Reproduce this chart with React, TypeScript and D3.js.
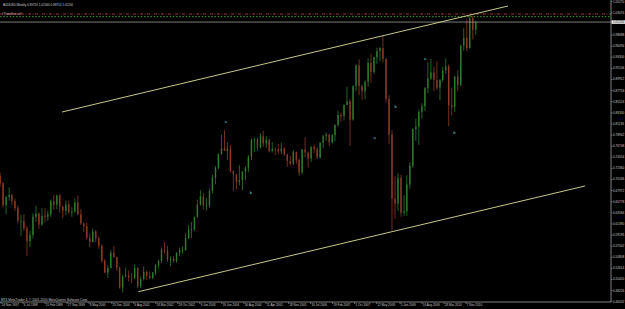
import React from 'react';
import * as d3 from 'd3';

const W = 625;
const H = 309;

const symbolTitle = 'AUDUSD,Weekly  0.99720 1.01560 0.98710 1.01250';
const objectLabel = '#Trendline sell';
const copyright = 'MT4 MetaTrader 4, © 2001-2010 MetaQuotes Software Corp.';

// monthly OHLC, starting Nov 1997
const startMonth = '1997-11-15';
const opens = [
  .708, .694, .651, .667, .671, .659, .645, .620, .620, .605, .580, .592, .628, .634,
  .613, .630, .628, .633, .659, .652, .670, .648, .640, .652, .638, .638,
  .656, .633, .615, .609, .587, .578, .599, .585, .571, .541, .518, .527,
  .557, .548, .527, .488, .510, .512, .508, .507, .527, .491, .505, .519,
  .511, .507, .518, .532, .541, .563, .562, .543, .545, .541, .557, .562,
  .562, .586, .602, .603, .628, .652, .668, .650, .650, .679, .705, .725,
  .752, .763, .758, .762, .718, .712, .697, .700, .717, .725, .746, .780,
  .781, .765, .787, .773, .780, .758, .762, .761, .757, .763, .751, .738,
  .733, .756, .740, .716, .761, .755, .743, .766, .762, .745, .774, .787,
  .790, .775, .789, .809, .829, .827, .849, .856, .820, .886, .927, .886,
  .876, .895, .932, .914, .943, .955, .961, .940, .861, .790, .664, .654,
  .705, .636, .639, .692, .729, .801, .806, .835, .846, .882, .901, .913,
  .898, .883, .898, .917, .925, .848, .845, .905, .888, .966, .981, .961,
  1.020, .997,
];
const highs = [
  .715, .697, .669, .686, .673, .664, .650, .632, .633, .610, .600, .635, .650, .637,
  .645, .645, .640, .662, .671, .672, .673, .650, .660, .660, .647, .664,
  .670, .643, .616, .616, .595, .605, .602, .590, .573, .545, .532, .562,
  .570, .549, .530, .513, .528, .522, .517, .534, .528, .510, .530, .522,
  .520, .519, .535, .543, .567, .578, .570, .550, .551, .558, .567, .570,
  .595, .612, .618, .628, .662, .680, .675, .665, .684, .711, .728, .753,
  .790, .799, .775, .770, .720, .712, .730, .718, .727, .750, .783, .784,
  .785, .793, .798, .787, .782, .775, .765, .772, .774, .765, .753, .748,
  .760, .757, .743, .762, .785, .757, .767, .771, .766, .776, .790, .795,
  .792, .792, .811, .837, .834, .850, .885, .860, .888, .929, .939, .889,
  .897, .941, .950, .944, .962, .963, .985, .941, .868, .799, .708, .714,
  .711, .671, .710, .736, .803, .822, .840, .852, .884, .933, .940, .925,
  .935, .900, .924, .941, .929, .883, .906, .917, .968, 1.001, 1.018, 1.024,
  1.025, 1.015,
];
const lows = [
  .687, .646, .633, .660, .650, .640, .615, .590, .600, .550, .568, .585, .618, .604,
  .610, .617, .620, .628, .642, .643, .636, .625, .632, .634, .628, .636,
  .631, .612, .598, .583, .568, .577, .578, .565, .537, .517, .507, .526,
  .548, .521, .486, .478, .508, .500, .497, .505, .487, .487, .502, .503,
  .505, .505, .513, .526, .537, .555, .539, .530, .537, .537, .550, .555,
  .561, .584, .586, .600, .625, .650, .642, .640, .646, .674, .692, .722,
  .750, .759, .740, .716, .678, .682, .690, .680, .700, .716, .740, .756,
  .758, .763, .766, .764, .755, .755, .750, .752, .752, .748, .727, .729,
  .730, .733, .709, .712, .745, .725, .736, .754, .742, .743, .763, .778,
  .768, .773, .777, .806, .815, .818, .848, .768, .818, .876, .868, .859,
  .860, .885, .893, .910, .930, .935, .933, .854, .771, .601, .624, .640,
  .628, .630, .630, .683, .724, .778, .770, .822, .837, .872, .898, .876,
  .878, .858, .894, .910, .807, .828, .835, .876, .886, .956, .955, .960,
  .978, .987,
];
const closes = [
  .694, .651, .667, .671, .659, .645, .620, .620, .605, .580, .592, .628, .634, .613,
  .630, .628, .633, .659, .652, .670, .648, .640, .652, .638, .638, .656,
  .633, .615, .609, .587, .578, .599, .585, .571, .541, .518, .527, .557,
  .548, .527, .488, .510, .512, .508, .507, .527, .491, .505, .519, .511,
  .507, .518, .532, .541, .563, .562, .543, .545, .541, .557, .562, .562,
  .586, .602, .603, .628, .652, .668, .650, .650, .679, .705, .725, .752,
  .763, .758, .762, .718, .712, .697, .700, .717, .725, .746, .780, .781,
  .765, .787, .773, .780, .758, .762, .761, .757, .763, .751, .738, .733,
  .756, .740, .716, .761, .755, .743, .766, .762, .745, .774, .787, .790,
  .775, .789, .809, .829, .827, .849, .856, .820, .886, .927, .886, .876,
  .895, .932, .914, .943, .955, .961, .940, .861, .790, .664, .654, .705,
  .636, .639, .692, .729, .801, .806, .835, .846, .882, .901, .913, .898,
  .883, .898, .917, .925, .848, .845, .905, .888, .966, .981, .961, 1.020,
  .997, 1.0125,
];

const timeTickDates = [
  '1997-11-24', '1998-07-06', '1999-02-15', '1999-09-27', '2000-05-08', '2000-12-25',
  '2001-08-06', '2002-03-18', '2002-10-28', '2003-06-09', '2004-01-19', '2004-08-30',
  '2005-04-11', '2005-11-28', '2006-07-10', '2007-02-19', '2007-10-01', '2008-05-12',
  '2009-01-05', '2009-08-16', '2010-03-28', '2010-11-07',
];
const timeTickLabels = [
  '24 Nov 1997', '6 Jul 1998', '15 Feb 1999', '27 Sep 1999', '8 May 2000', '25 Dec 2000',
  '6 Aug 2001', '18 Mar 2002', '28 Oct 2002', '9 Jun 2003', '19 Jan 2004', '30 Aug 2004',
  '11 Apr 2005', '28 Nov 2005', '10 Jul 2006', '19 Feb 2007', '1 Oct 2007', '12 May 2008',
  '5 Jan 2009', '16 Aug 2009', '28 Mar 2010', '7 Nov 2010',
];
const priceTicks = [
  1.05270, 1.03076, 1.00882, 0.98688, 0.96494, 0.94300, 0.92106, 0.89912, 0.87718,
  0.85524, 0.83330, 0.81136, 0.78942, 0.76748, 0.74554, 0.72360, 0.70166, 0.67972,
  0.65778, 0.63584, 0.61390, 0.59196, 0.57002, 0.54808, 0.52614, 0.50420, 0.48226,
  0.46032,
];

const bidPrice = 1.0125;
const redLevel = 1.0284;
const greenLevel = 1.0231;

const upperChannelDates = ['1999-08-07', '2012-01-08'];
const upperChannelPrices = [0.8349, 1.0442];
const lowerChannelDates = ['2001-09-21', '2014-03-02'];
const lowerChannelPrices = [0.48, 0.6888];

const waveTexts = ['a', 'b', 'a', 'b', 'a', 'b'];
const waveDates = ['2004-03-01', '2004-11-10', '2008-04-22', '2008-11-22', '2009-09-16', '2010-07-11'];
const wavePrices = [0.8171, 0.6769, 0.784, 0.8448, 0.9415, 0.7947];

const parse = d3.timeParse('%Y-%m-%d');

export default function App() {
  const plotRight = 611;
  const plotBottom = 302;
  const x = d3
    .scaleTime()
    .domain([parse('1997-11-24')!, parse('2010-11-07')!])
    .range([1, 466]);
  const y = d3.scaleLinear().domain([priceTicks[priceTicks.length - 1], priceTicks[0]]).range([301.7, 1.7]);

  const start = parse(startMonth)!;
  const months = closes.map((_, i) => d3.timeMonth.offset(start, i));
  const pxPerDay = x(parse('2000-01-02')!) - x(parse('2000-01-01')!);
  const bodyW = Math.max(1.0, pxPerDay * 30.4 * 0.5);

  const upColor = '#3a923a';
  const downColor = '#a8472e';
  const fontFam = "'Liberation Sans', Arial, sans-serif";
  const bidY = y(bidPrice);

  return (
    <svg
      width={W}
      height={H}
      style={{ position: 'absolute', left: 0, top: 0, background: '#000' }}
    >
      <rect x={0} y={0} width={W} height={H} fill="#000" />
      <defs>
        <clipPath id="plot">
          <rect x={0} y={0} width={plotRight} height={plotBottom} />
        </clipPath>
      </defs>

      <g clipPath="url(#plot)">
        {/* candles */}
        {months.map((m, i) => {
          const cx = x(m);
          const o = opens[i];
          const c = closes[i];
          const col = c >= o ? upColor : downColor;
          const top = y(Math.max(o, c));
          const bot = y(Math.min(o, c));
          return (
            <g key={i} opacity={0.9}>
              <line x1={cx} x2={cx} y1={y(highs[i])} y2={y(lows[i])} stroke={col} strokeWidth={0.75} />
              <rect x={cx - bodyW / 2} y={top} width={bodyW} height={Math.max(0.8, bot - top)} fill={col} opacity={0.8} />
            </g>
          );
        })}

        {/* level lines */}
        <line x1={0} x2={plotRight} y1={y(redLevel)} y2={y(redLevel)} stroke="#a83a3a" strokeWidth={0.9} strokeDasharray="3,1.5,1,1.5" />
        <line x1={0} x2={plotRight} y1={y(greenLevel)} y2={y(greenLevel)} stroke="#3a9a3a" strokeWidth={1} strokeDasharray="1.6,1.6" />
        <line x1={0} x2={plotRight} y1={bidY} y2={bidY} stroke="#9a9a9a" strokeWidth={0.8} />

        {/* channel */}
        <line
          x1={x(parse(upperChannelDates[0])!)}
          y1={y(upperChannelPrices[0])}
          x2={x(parse(upperChannelDates[1])!)}
          y2={y(upperChannelPrices[1])}
          stroke="#dede9c"
          strokeWidth={0.9}
        />
        <line
          x1={x(parse(lowerChannelDates[0])!)}
          y1={y(lowerChannelPrices[0])}
          x2={x(parse(lowerChannelDates[1])!)}
          y2={y(lowerChannelPrices[1])}
          stroke="#dede9c"
          strokeWidth={0.9}
        />

        {/* wave labels */}
        {waveTexts.map((t, i) => (
          <text
            key={i}
            x={x(parse(waveDates[i])!)}
            y={y(wavePrices[i])}
            fontSize={4}
            fill="#7fd4d4"
            textAnchor="middle"
            dominantBaseline="central"
            fontFamily={fontFam}
          >
            {t}
          </text>
        ))}

        <text x={3} y={5.5} fontSize={3} fill="#d0d0d0" fontFamily={fontFam}>
          {symbolTitle}
        </text>
        <text x={2} y={y(redLevel) + 1} fontSize={3} fill="#d8b8b8" fontFamily={fontFam}>
          {objectLabel}
        </text>
        <text x={1} y={plotBottom - 0.6} fontSize={3.2} fill="#c8c8c8" fontFamily={fontFam}>
          {copyright}
        </text>
      </g>

      {/* axes frame */}
      <line x1={plotRight} x2={plotRight} y1={0} y2={plotBottom} stroke="#a0a0a0" strokeWidth={0.8} />
      <line x1={0} x2={plotRight} y1={plotBottom} y2={plotBottom} stroke="#a0a0a0" strokeWidth={0.8} />

      {/* price axis */}
      {priceTicks.map((p, i) => {
        const ty = y(p);
        if (Math.abs(ty - bidY) < 4) return null;
        return (
          <g key={i}>
            <line x1={plotRight} x2={plotRight + 1.5} y1={ty} y2={ty} stroke="#a0a0a0" strokeWidth={0.6} />
            <text x={plotRight + 2} y={ty + 1} fontSize={3.1} fill="#c8c8c8" fontFamily={fontFam}>
              {p.toFixed(5)}
            </text>
          </g>
        );
      })}
      <rect x={plotRight + 0.5} y={bidY - 1.8} width={13.5} height={3.6} fill="#e8e8e8" />
      <text x={plotRight + 2} y={bidY + 1} fontSize={3.1} fill="#000" fontFamily={fontFam}>
        {bidPrice.toFixed(5)}
      </text>

      {/* time axis */}
      {timeTickDates.map((d, i) => {
        const tx = x(parse(d)!);
        return (
          <g key={i}>
            <line x1={tx} x2={tx} y1={plotBottom} y2={plotBottom + 2} stroke="#a0a0a0" strokeWidth={0.6} />
            <text x={tx + 0.8} y={plotBottom + 3.8} fontSize={3} fill="#c8c8c8" fontFamily={fontFam}>
              {timeTickLabels[i]}
            </text>
          </g>
        );
      })}
    </svg>
  );
}
